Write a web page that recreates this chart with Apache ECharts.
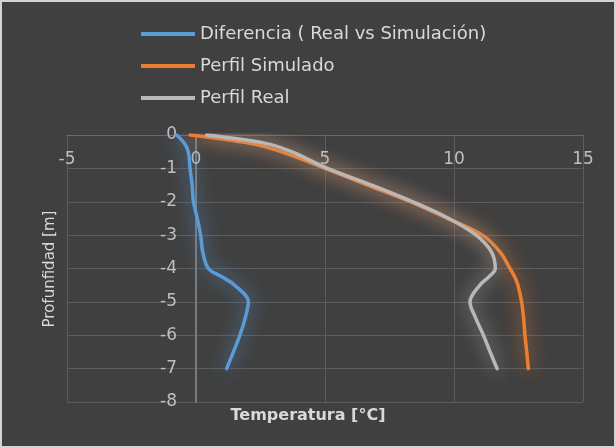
<!DOCTYPE html>
<html>
<head>
<meta charset="utf-8">
<script src="https://cdn.jsdelivr.net/npm/echarts@6/dist/echarts.min.js"></script>
<style>
html,body{margin:0;padding:0;background:#404040;}
#c{width:616px;height:448px;box-sizing:border-box;border:2px solid #d4d4d4;background:#404040;}
</style>
</head>
<body>
<div id="c"></div>
<script>
// Depths (m)
const depths = [0, -0.25, -0.5, -1, -1.5, -2, -2.5, -3, -3.5, -4, -4.25, -4.5, -5, -5.5, -6, -6.5, -7];
// Temperatures (°C)
const perfilReal     = [0.42, 2.7, 3.7, 5.1, 6.8, 8.4, 9.8, 10.86, 11.45, 11.6, 11.35, 11.0, 10.62, 10.85, 11.14, 11.4, 11.67];
const perfilSimulado = [-0.23, 2.1, 3.3, 5.0, 6.65, 8.3, 9.75, 11.1, 11.78, 12.17, 12.35, 12.48, 12.62, 12.7, 12.75, 12.82, 12.88];
const diferencia     = [-0.75, -0.45, -0.3, -0.23, -0.15, -0.1, 0.05, 0.18, 0.26, 0.48, 1.0, 1.5, 2.03, 1.9, 1.7, 1.45, 1.19];
const seriesNames = ['Diferencia ( Real vs Simulación)', 'Perfil Simulado', 'Perfil Real'];
const xTicks = {min: -5, max: 15, interval: 5};
const yTicks = {min: -8, max: 0, interval: 1};

function pairs(xs){ return xs.map((x,i)=>[x, depths[i]]); }

const chart = echarts.init(document.getElementById('c'), null, {renderer:'canvas'});
const font = '"DejaVu Sans", "Open Sans", sans-serif';
const colors = ['#5b9bd5', '#ed7d31', '#b8b8b8'];
const datas = [diferencia, perfilSimulado, perfilReal];

// plot geometry
const gridLeft = 65, gridRight = 31;
const plotW = 612 - gridLeft - gridRight;
const zeroOffset = plotW * (0 - xTicks.min) / (xTicks.max - xTicks.min);

chart.setOption({
  backgroundColor: '#404040',
  textStyle: {fontFamily: font},
  animation: false,
  grid: {left: gridLeft, right: gridRight, top: 133, bottom: 44},
  legend: {
    orient: 'vertical', left: 134, top: 18, itemGap: 14,
    itemWidth: 54, itemHeight: 4, icon: 'rect',
    textStyle: {color: '#d9d9d9', fontSize: 18, fontFamily: font},
    data: seriesNames
  },
  xAxis: {
    type: 'value', position: 'top', min: xTicks.min, max: xTicks.max, interval: xTicks.interval,
    axisLine: {show: true, onZero: false, lineStyle: {color: '#6a6a6a', width: 1}},
    axisTick: {show: false},
    axisLabel: {inside: true, color: '#bfbfbf', fontSize: 17, margin: 16, fontFamily: font},
    splitLine: {show: true, lineStyle: {color: '#5c5c5c', width: 1}}
  },
  yAxis: {
    type: 'value', position: 'left', offset: -zeroOffset, min: yTicks.min, max: yTicks.max, interval: yTicks.interval,
    axisLine: {show: true, onZero: false, lineStyle: {color: '#8a8a8a', width: 1.5}},
    axisTick: {show: false},
    axisLabel: {color: '#bfbfbf', fontSize: 17, margin: 19, fontFamily: font},
    splitLine: {show: true, lineStyle: {color: '#5c5c5c', width: 1}}
  },
  graphic: [
    {type: 'text', left: 'center', top: 406, style: {text: 'Temperatura [°C]', fill: '#d9d9d9', font: 'bold 16px ' + font}},
    {type: 'text', x: 48, y: 267, rotation: Math.PI/2, style: {text: 'Profunfidad [m]', fill: '#d9d9d9', font: '15px ' + font, align: 'center', verticalAlign: 'middle'}}
  ],
  series: seriesNames.map((n,i)=>({
    name: n, type: 'line', smooth: 0.35, showSymbol: false, symbol: 'none',
    data: pairs(datas[i]),
    itemStyle: {color: colors[i]},
    lineStyle: {color: colors[i], width: 3.5, shadowColor: colors[i], shadowBlur: 18, cap: 'round'}
  }))
});
</script>
</body>
</html>
